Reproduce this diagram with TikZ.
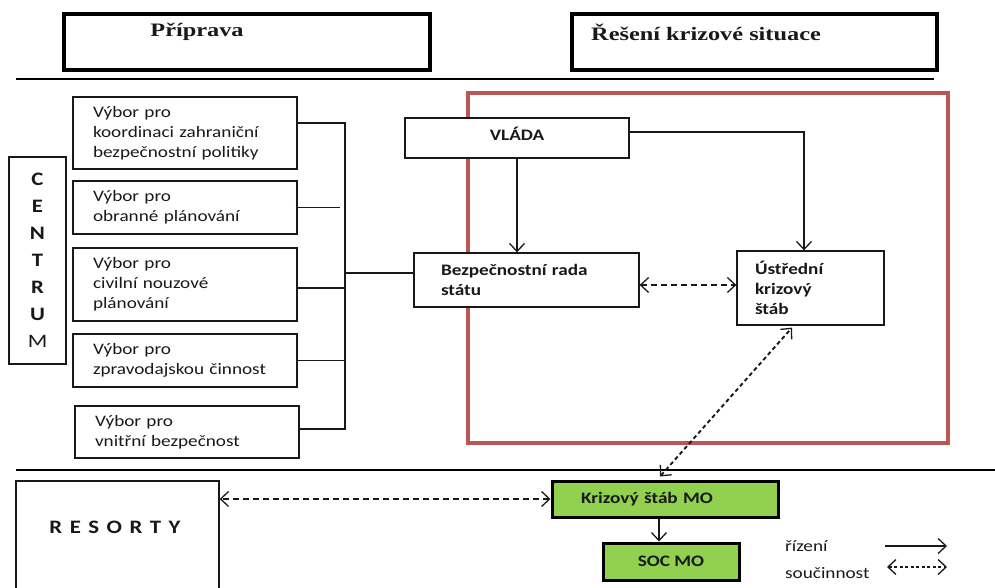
\documentclass[tikz,border=0pt]{standalone}
\usepackage{fontspec}
\setmainfont{Carlito}[FakeStretch=1.2]
\newfontfamily\hdrfont{Liberation Serif}[FakeStretch=1.28]
\usetikzlibrary{arrows.meta}
\definecolor{kgreen}{RGB}{146,208,80}
\definecolor{kred}{RGB}{186,86,86}
\definecolor{kink}{RGB}{25,25,25}
\newcommand{\txt}{\fontsize{16}{20}\selectfont}
\tikzset{
  box/.style={draw=kink, line width=1.3pt, fill=white, inner sep=0pt, text=kink},
  vybor/.style={box, align=left, text width=184pt, inner xsep=20pt, font=\txt},
  hdrbox/.style={draw=black, line width=3.5pt, inner sep=0pt, minimum height=56pt},
  hdrtext/.style={inner sep=0pt, font=\hdrfont\bfseries\fontsize{19}{22}\selectfont, text=kink},
  greenbox/.style={draw=black, line width=3pt, fill=kgreen, inner sep=0pt, font=\txt\bfseries, text=kink},
  sep/.style={draw=black, line width=2.5pt},
  link/.style={draw=kink, line width=1.3pt},
  ctrl/.style={draw=kink, line width=1.3pt, -{Straight Barb[length=8pt,width=15pt,line width=1.3pt]}},
  coop/.style={draw=kink, line width=1.3pt, dash pattern=on 6pt off 4pt,
    {Straight Barb[length=8pt,width=15pt,line width=1.3pt]}-{Straight Barb[length=8pt,width=15pt,line width=1.3pt]}},
  coopdense/.style={coop, line width=1.9pt, dash pattern=on 4pt off 3pt},
  legtext/.style={inner sep=0pt, font=\txt, text=kink, anchor=west},
}
\begin{document}
\begin{tikzpicture}[x=1pt,y=-1pt]
\useasboundingbox (0,0) rectangle (995,588);
\fill[white] (0,0) rectangle (995,588);

% header boxes
\node[hdrbox, minimum width=366pt] (prip) at (247,42) {};
\node[hdrtext] (priptxt) at (197,32) {Příprava};
\node[hdrbox, minimum width=365pt] (resen) at (754.5,42) {};
\node[hdrtext, anchor=west] (resentxt) at (591,32) {Řešení krizové situace};

% separators
\draw[sep] (16,79) -- (934,79);
\draw[sep] (16,470) -- (995,470);

% red frame
\draw[kred, line width=3.5pt] (468,93) rectangle (948,443);

% CENTRUM
\node[box, minimum width=57pt, minimum height=207pt, align=center,
      font=\fontsize{19}{27}\selectfont\bfseries] (centrum) at (37.5,260.5)
  {C\\E\\N\\T\\R\\U\\{\mdseries M}};

% committees
\node[vybor, minimum height=72pt] (v1) at (185,133) {Výbor pro\\koordinaci zahraniční\\bezpečnostní politiky};
\node[vybor, minimum height=53pt] (v2) at (185,207.5) {Výbor pro\\obranné plánování};
\node[vybor, minimum height=73pt] (v3) at (185,284.5) {Výbor pro\\civilní nouzové\\plánování};
\node[vybor, minimum height=53pt] (v4) at (185,360.5) {Výbor pro\\zpravodajskou činnost};
\node[vybor, minimum height=52pt] (v5) at (187,432) {Výbor pro\\vnitřní bezpečnost};

% government side
\node[box, minimum width=224pt, minimum height=40pt, text depth=8pt, font=\txt\bfseries] (vlada) at (517,138) {VLÁDA};
\node[box, align=left, text width=171pt, inner xsep=27pt, minimum height=54pt, font=\txt\bfseries] (bezp) at (526.5,280) {Bezpečnostní rada\\státu};
\node[box, align=left, text width=111pt, inner xsep=18pt, minimum height=74pt, font=\txt\bfseries] (ust) at (810.5,288) {Ústřední\\krizový\\štáb};

% resorts
\node[box, minimum width=203pt, minimum height=125pt] (res) at (117.5,543.5) {};
\node[inner sep=0pt, font=\fontsize{19}{22}\selectfont\bfseries, text=kink] (restxt) at (115,527)
  {R\hspace{7.5pt}E\hspace{7.5pt}S\hspace{7.5pt}O\hspace{7.5pt}R\hspace{7.5pt}T\hspace{7.5pt}Y};

% green boxes
\node[greenbox, align=left, text width=168pt, inner xsep=29pt, minimum height=36pt] (kris) at (665,499) {Krizový štáb MO};
\node[greenbox, minimum width=136pt, minimum height=37pt] (soc) at (671,561.5) {SOC MO};

% bus of committees
\coordinate (b1) at (345,123);
\coordinate (b0) at (345,273);
\coordinate (b3) at (345,288);
\coordinate (b5) at (345,429);
\coordinate (g2) at (340,207.5);
\draw[link] (v1.east |- b1) -- (b1) -- (b5) -- (v5.east |- b5);
\draw[link] ([xshift=-2pt]v2.east) -- (g2);
\draw[link] (v3.east |- b3) -- (b3);
\draw[link] (v4.east) -- (v4.east -| b1);
\draw[link] (b0) -- (bezp.west |- b0);

% control arrows
\draw[ctrl] (vlada.south) -- (vlada.south |- bezp.north);
\draw[ctrl] ([yshift=6pt]vlada.east) -| ([xshift=-6.5pt]ust.north);
\draw[ctrl] ([xshift=-6pt]kris.south) -- ([xshift=-6pt]kris.south |- soc.north);

% cooperation arrows
\draw[coop] ([yshift=-5pt]bezp.east) -- ([yshift=-5pt]bezp.east -| ust.west);
\draw[coopdense] ([xshift=-5pt,yshift=3pt]kris.north) -- ([xshift=-18.5pt,yshift=-2pt]ust.south);
\draw[coop] (kris.west) -- (kris.west -| res.east);

% legend
\node[legtext] (lrizeni) at (785,546) {řízení};
\node[legtext] (lsouc) at (785,573) {součinnost};
\coordinate (l1s) at (885,546);
\coordinate (l1e) at (947,546);
\coordinate (l2s) at (887,567);
\coordinate (l2e) at (947,567);
\draw[ctrl] (l1s) -- (l1e);
\draw[coop, dash pattern=on 3pt off 2.5pt] (l2s) -- (l2e);
\end{tikzpicture}
\end{document}
